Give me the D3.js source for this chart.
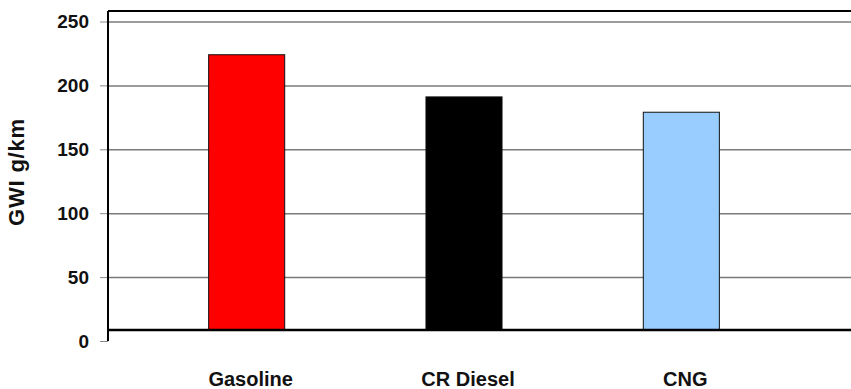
<!DOCTYPE html>
<html>
<head>
<meta charset="utf-8">
<script src="https://cdn.jsdelivr.net/npm/d3@7"></script>
<style>
  html, body { margin: 0; padding: 0; background: #fff; }
  svg { display: block; font-family: "Liberation Sans", Arial, sans-serif; }
</style>
</head>
<body>
<svg id="chart" width="851" height="389"></svg>
<script>
// Global warming impact per km by fuel type
const categories = ["Gasoline", "CR Diesel", "CNG"];
const values = [224, 191, 179];
const barColors = ["#ff0000", "#000000", "#99ccff"];
const yTicks = [0, 50, 100, 150, 200, 250];
const yTitle = "GWI g/km";

const plotLeft = 108, plotRight = 851, plotTop = 11;
const baselineY = 330;

const svg = d3.select("#chart");

const y = d3.scaleLinear().domain([0, 250]).range([341, 21.5]);
const x = d3.scaleBand()
  .domain(categories)
  .range([138, 790])
  .paddingInner(0.65)
  .paddingOuter(0.325);

// horizontal gridlines
const grid = svg.append("g")
  .attr("transform", `translate(${plotLeft},0)`)
  .call(d3.axisLeft(y).tickValues(yTicks.filter(d => d > 0)).tickSize(-(plotRight - plotLeft)).tickFormat(""));
grid.select(".domain").remove();
grid.selectAll(".tick line").attr("stroke", "#7a7a7a").attr("stroke-width", 1.5);

// y tick marks and labels
const yAxis = svg.append("g")
  .attr("transform", `translate(${plotLeft},0)`)
  .call(d3.axisLeft(y).tickValues(yTicks).tickSize(8).tickPadding(11));
yAxis.select(".domain").remove();
yAxis.selectAll(".tick line").attr("stroke", "#888").attr("stroke-width", 1);
yAxis.selectAll(".tick text")
  .attr("font-size", 19)
  .attr("font-weight", "bold")
  .attr("fill", "#111")
  .attr("font-family", "Liberation Sans, Arial, sans-serif");

// bars
svg.append("g").selectAll("rect")
  .data(categories)
  .join("rect")
  .attr("x", d => x(d))
  .attr("width", x.bandwidth())
  .attr("y", (d, i) => y(values[i]))
  .attr("height", (d, i) => baselineY - y(values[i]))
  .attr("fill", (d, i) => barColors[i])
  .attr("stroke", "#111")
  .attr("stroke-width", 1);

// frame: top border and left axis
svg.append("line").attr("x1", plotLeft).attr("x2", plotRight).attr("y1", plotTop).attr("y2", plotTop)
  .attr("stroke", "#000").attr("stroke-width", 2);
svg.append("line").attr("x1", plotLeft).attr("x2", plotLeft).attr("y1", plotTop).attr("y2", 341)
  .attr("stroke", "#000").attr("stroke-width", 2);

// category axis
const xAxis = svg.append("g")
  .attr("transform", `translate(0,${baselineY})`)
  .call(d3.axisBottom(x).tickSize(0));
xAxis.select(".domain").remove();
xAxis.selectAll(".tick text")
  .attr("y", 56)
  .attr("dy", 0)
  .attr("dx", 4)
  .attr("font-size", 20)
  .attr("font-weight", "bold")
  .attr("fill", "#111")
  .attr("font-family", "Liberation Sans, Arial, sans-serif");

svg.append("line").attr("x1", plotLeft).attr("x2", plotRight).attr("y1", baselineY).attr("y2", baselineY)
  .attr("stroke", "#000").attr("stroke-width", 2.5);

// y-axis title
svg.append("text")
  .attr("transform", "translate(24,172) rotate(-90)")
  .attr("text-anchor", "middle")
  .attr("font-size", 22)
  .attr("font-weight", "bold")
  .attr("letter-spacing", 0.8)
  .attr("fill", "#111")
  .text(yTitle);
</script>
</body>
</html>
